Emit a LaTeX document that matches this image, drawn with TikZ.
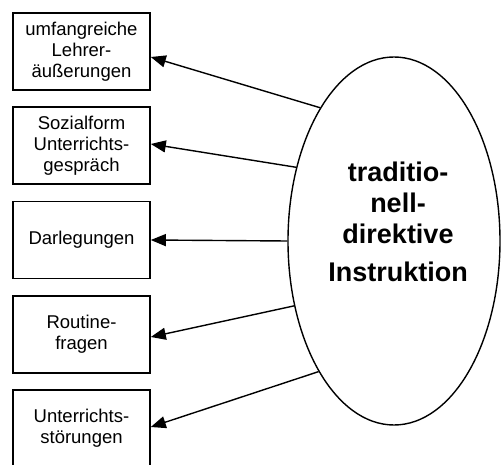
\documentclass[tikz,border=0pt]{standalone}
\usepackage{fontspec}
\setmainfont{Liberation Sans}
\usetikzlibrary{arrows.meta,shapes.geometric}
\begin{document}
\begin{tikzpicture}[x=1pt,y=-1pt,
  box/.style={draw,line width=1.6pt,minimum width=137pt,minimum height=77pt,inner sep=0pt,
    align=center,font=\fontsize{18.5}{21}\selectfont},
  arr/.style={line width=1.4pt,-{Triangle[length=15pt,width=12pt]}}]
\useasboundingbox (0,0) rectangle (501,465);
\clip (0,0) rectangle (501,465);
\node[box] (b1) at (81.5,51.5) {umfangreiche\\Lehrer-\\äußerungen};
\node[box] (b2) at (81.5,145.5) {Sozialform\\Unterrichts-\\gespräch};
\node[box] (b3) at (81.5,240) {Darlegungen};
\node[box] (b4) at (81.5,334.5) {Routine-\\fragen};
\node[box] (b5) at (81.5,428.5) {Unterrichts-\\störungen};
\node[draw,ellipse,line width=1.4pt,minimum width=212pt,minimum height=368pt,inner sep=0pt] (e) at (394,241) {};
\node[align=center,font=\fontsize{27}{31}\selectfont\bfseries] (t) at (398,222) {traditio-\\nell-\\direktive\\[7pt]Instruktion};
\draw[arr] (e.119) -- (b1.east |- 0,57);
\draw[arr] (e.143) -- (b2.east |- 0,144);
\draw[arr] (e.180) -- (b3.east);
\draw[arr] (e.213) -- (b4.east |- 0,337);
\draw[arr] (e.240.5) -- (b5.east |- 0,427);
\end{tikzpicture}
\end{document}
